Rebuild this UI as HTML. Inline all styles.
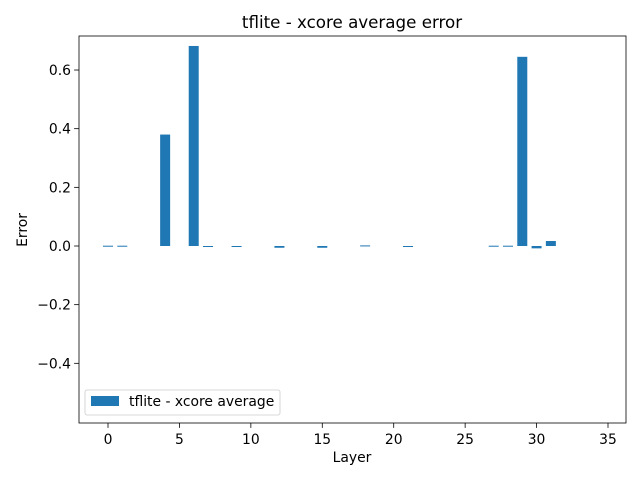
<!DOCTYPE html>
<html><head><meta charset="utf-8"><style>
body{margin:0;background:#fff;font-family:"Liberation Sans","DejaVu Sans",sans-serif;}
text{font-family:"DejaVu Sans","Liberation Sans",sans-serif;}
</style></head><body>
<svg id="c" width="640" height="480" xmlns="http://www.w3.org/2000/svg"></svg>
<script>
const layers=[];for(let i=0;i<=31;i++)layers.push(i);
const errors=[0.001,0.001,0,0,0.38,0,0.682,-0.002,0,-0.002,0,0,-0.006,0,0,-0.006,0,0,0.002,0,0,-0.003,0,0,0,0,0,0.001,0.001,0.645,-0.008,0.017];
const xTicks=[0,5,10,15,20,25,30,35];
const yTicks=[-0.4,-0.2,0.0,0.2,0.4,0.6];
const L=79,R=626,T=36,B=423;
const x=v=>108+(v)*500/35;
const y=v=>246-v*293.3;
const s=document.getElementById('c');
function el(t,a,txt){const e=document.createElementNS('http://www.w3.org/2000/svg',t);for(const k in a)e.setAttribute(k,a[k]);if(txt!==undefined)e.textContent=txt;s.appendChild(e);return e;}
layers.forEach((l,i)=>{const v=errors[i];const y0=y(Math.max(v,0)),y1=y(Math.min(v,0));
const r=el('rect',{x:x(l-0.35),y:y0,width:x(0.7)-x(0),height:Math.max(y1-y0,v===0?0:1),fill:'#1f77b4'});

});
const ax=el('rect',{x:L,y:T,width:R-L,height:B-T,fill:'none',stroke:'#000','stroke-width':0.8});

xTicks.forEach(t=>{el('line',{x1:x(t),x2:x(t),y1:B,y2:B+4.9,stroke:'#000','stroke-width':0.8});
const tx=el('text',{x:x(t),y:B+21,'text-anchor':'middle','font-size':13.9},String(t));
});
yTicks.forEach(t=>{el('line',{x1:L,x2:L-4.9,y1:y(t),y2:y(t),stroke:'#000','stroke-width':0.8});
const tx=el('text',{x:L-8,y:y(t)+5,'text-anchor':'end','font-size':13.9},(t<0?'\u2212':'')+Math.abs(t).toFixed(1));
});
let e;
e=el('text',{x:352,y:28,'text-anchor':'middle','font-size':16.7},'tflite - xcore average error');
e=el('text',{x:352,y:462,'text-anchor':'middle','font-size':13.9},'Layer');
e=el('text',{x:0,y:0,'text-anchor':'middle','font-size':13.9,transform:'translate(27,230) rotate(-90)'},'Error');
e=el('rect',{x:85,y:390,width:195,height:25,rx:2,fill:'#fff',stroke:'#ccc','stroke-width':0.8});
el('rect',{x:91,y:396,width:28,height:10,fill:'#1f77b4'});
e=el('text',{x:129,y:406,'font-size':13.9},'tflite - xcore average');
</script>
</body></html>
